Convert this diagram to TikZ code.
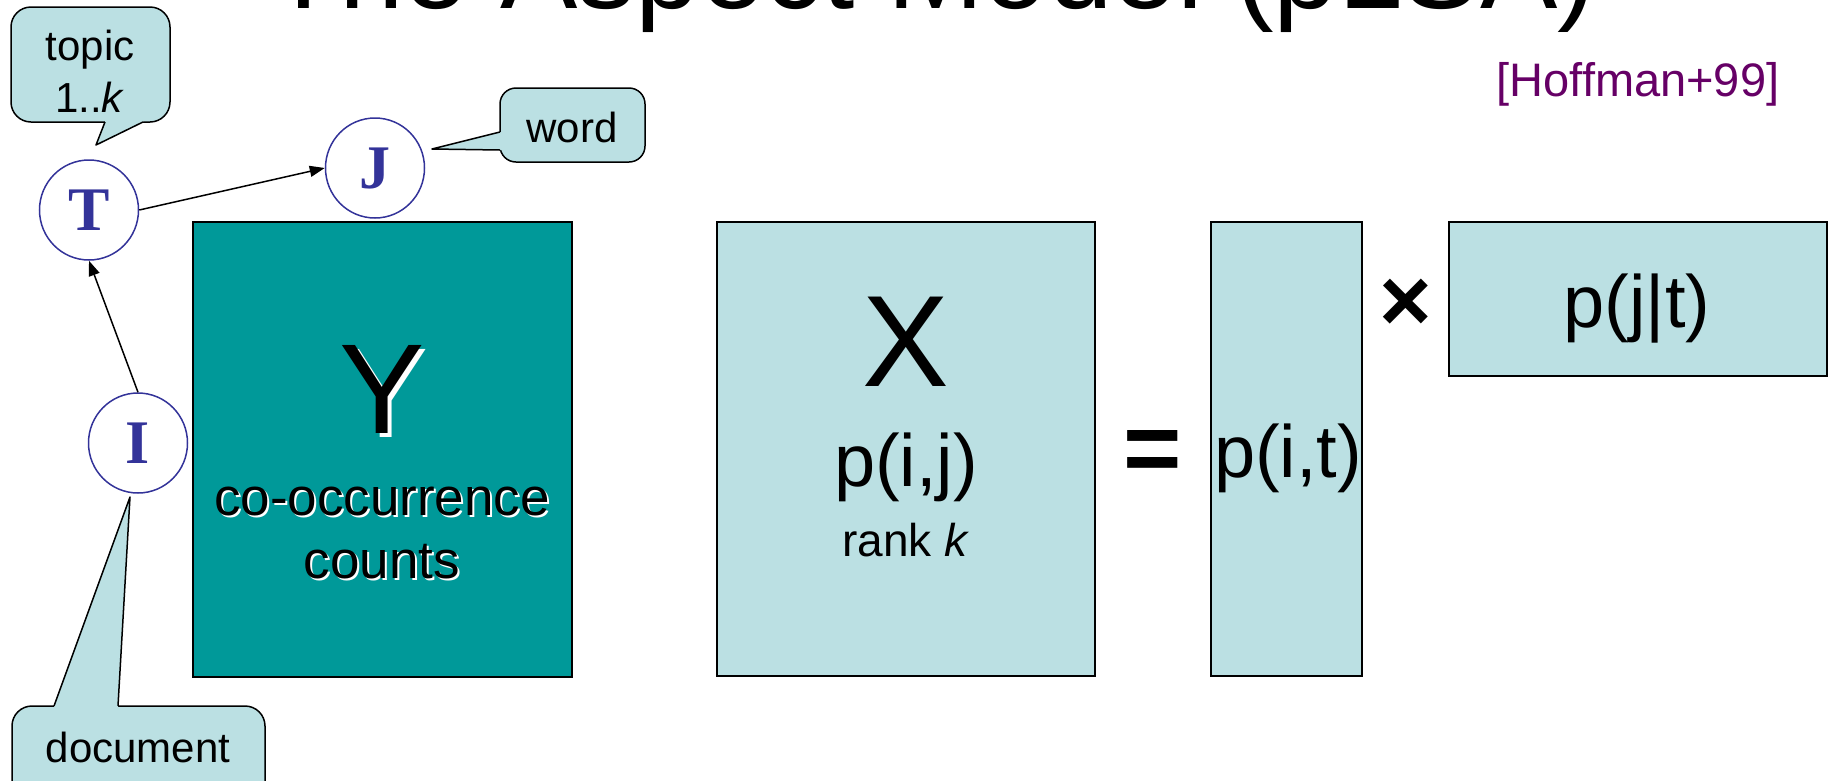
\documentclass[tikz,border=0pt]{standalone}
\usepackage{fontspec}
\setmainfont{Liberation Sans}
\newfontfamily\tnr{Liberation Serif}
\usetikzlibrary{arrows.meta,shapes.geometric}
\definecolor{teal0}{RGB}{0,153,153}
\definecolor{lightc}{RGB}{187,224,227}
\definecolor{navy0}{RGB}{51,51,153}
\definecolor{purple0}{RGB}{102,0,102}
\newcommand{\fsz}[1]{\fontsize{#1}{#1}\selectfont}
\begin{document}
\begin{tikzpicture}[x=1pt,y=-1pt,
  mat/.style={draw=black,line width=1.5pt,inner sep=0pt},
  var/.style={ellipse,draw=navy0,line width=1.5pt,fill=white,minimum width=99pt,minimum height=100pt,inner sep=0pt,text=navy0,font=\tnr\bfseries\fsz{62}},
  conn/.style={line width=1.5pt,-{Triangle[length=15pt,width=11pt]}},
  callbox/.style={fill=lightc,draw=black,line width=1.5pt,rounded corners=#1},
  callbox/.default=20pt,
  ptr/.style={draw=black,line width=1.5pt,line join=round},
  txt/.style={inner sep=0pt,anchor=base},
  shade/.style={inner sep=0pt,anchor=base,text=white},
]
\useasboundingbox (0,0) rectangle (1836,780);
\clip (0,0) rectangle (1836,780);

% title (cut off at top)
\node[txt,anchor=base west,font=\fsz{116}] (title) at (268,8) {The Aspect Model (pLSA)};
\node[txt,font=\fsz{47},text=purple0] (ref) at (1638,96) {[Hoffman+99]};

% Y matrix
\node[mat,fill=teal0,minimum width=379pt,minimum height=455pt] (Ybox) at (382.5,449.5) {};
\node[shade,font=\fsz{128}] at (386,437) {Y};
\node[txt,font=\fsz{128}] (Y) at (382,433) {Y};
\node[shade,font=\fsz{53}] at (384,517) {co-occurrence};
\node[txt,font=\fsz{53}] (cooc) at (382,515) {co-occurrence};
\node[shade,font=\fsz{53}] at (384,580) {counts};
\node[txt,font=\fsz{53}] (counts) at (382,578) {counts};

% X matrix
\node[mat,fill=lightc,minimum width=378pt,minimum height=454pt] (Xbox) at (906,449) {};
\node[txt,font=\fsz{130}] (X) at (906,386) {X};
\node[txt,font=\fsz{74}] (pij) at (906,486) {p(i,j)};
\node[txt,font=\fsz{46}] (rank) at (906,556) {rank \textit{k}};

% = and factors
\node[inner sep=0pt,font=\bfseries\fsz{100}] (eq) at (1153,456) {=};
\node[mat,fill=lightc,minimum width=151pt,minimum height=454pt] (PTbox) at (1286.5,449) {};
\node[txt,font=\fsz{74}] (pit) at (1288,477) {p(i,t)};
\node[inner sep=0pt,font=\bfseries\fsz{90}] (times) at (1406,305) {×};
\node[mat,fill=lightc,minimum width=378pt,minimum height=154pt] (PJbox) at (1638,299) {};
\node[txt,font=\fsz{74}] (pjt) at (1637,327) {p(j|t)};

% graphical model
\node[var] (T) at (89,210) {T};
\node[var] (J) at (375,168) {J};
\node[var] (I) at (138,443) {I};
\draw[conn] (T.east) -- (J.west);
\draw[conn] (I.north) -- (T.south);

% topic callout
\path[callbox] (11,7) rectangle (170,122);
\fill[lightc] (105,119) -- (105,122) -- (96,145) -- (143,122) -- (143,119) -- cycle;
\draw[ptr] (105,122) -- (96,145) -- (143,122);
\node[txt,font=\fsz{42}] (topic) at (90,60) {topic};
\node[txt,font=\fsz{42}] (topick) at (90,112) {1..\textit{k}};

% word callout
\path[callbox=16pt] (500,88) rectangle (645,162);
\fill[lightc] (503,132) -- (500,132) -- (432,149) -- (500,150) -- (503,150) -- cycle;
\draw[ptr] (500,132) -- (432,149) -- (500,150);
\node[txt,font=\fsz{42}] (word) at (572,142) {word};

% document callout
\path[callbox] (12,706) rectangle (265,830);
\fill[lightc] (54,709) -- (54,706) -- (130,497) -- (118,706) -- (118,709) -- cycle;
\draw[ptr] (54,706) -- (130,497) -- (118,706);
\node[txt,font=\fsz{42}] (doc) at (138,762) {document};
\end{tikzpicture}
\end{document}
